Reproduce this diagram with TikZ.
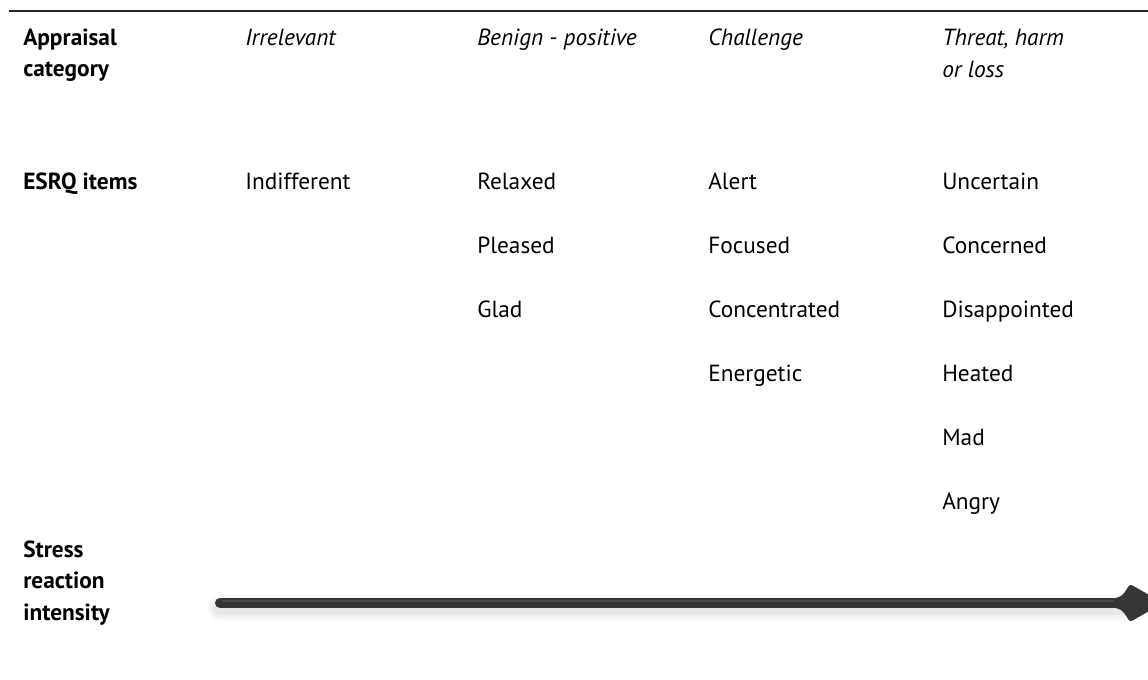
\documentclass[tikz,border=0pt]{standalone}
\usepackage{fontspec}
\setmainfont{PT Sans}
\definecolor{shaft}{HTML}{353535}
\definecolor{shafthi}{HTML}{5A5A5A}
\begin{document}
\begin{tikzpicture}[x=0.75pt,y=-0.75pt,
  txt/.style={inner sep=0pt,anchor=base west,align=left,font=\fontsize{17.5}{23.6}\selectfont},
  rowlabel/.style={txt,font=\fontsize{17.5}{23.6}\selectfont\bfseries},
  cathead/.style={txt,font=\fontsize{17.5}{23.6}\selectfont\itshape},
  item/.style={txt},
  rule/.style={line width=1.5pt,black!85}]
\useasboundingbox (0,0) rectangle (1148,679);
% top rule
\coordinate (ruleL) at (9,11);
\coordinate (ruleR) at (1148,11);
\draw[rule] (ruleL) -- (ruleR);
% row labels (anchor = baseline of last line)
\node[rowlabel] (lapp) at (23,76.5) {Appraisal\\category};
\node[rowlabel] (lesrq) at (23,189) {ESRQ items};
\node[rowlabel] (lstress) at (23,620) {Stress\\reaction\\intensity};
% category headers
\node[cathead] (c1) at (245,45) {Irrelevant};
\node[cathead] (c2) at (477,45) {Benign - positive};
\node[cathead] (c3) at (708,45) {Challenge};
\node[cathead] (c4) at (942,77) {Threat, harm\\or loss};
% items
\node[item] (i11) at (245,189) {Indifferent};
\node[item] (i21) at (477,189) {Relaxed};
\node[item] (i22) at (477,253) {Pleased};
\node[item] (i23) at (477,317) {Glad};
\node[item] (i31) at (708,189) {Alert};
\node[item] (i32) at (708,253) {Focused};
\node[item] (i33) at (708,317) {Concentrated};
\node[item] (i34) at (708,381) {Energetic};
\node[item] (i41) at (942,189) {Uncertain};
\node[item] (i42) at (942,253) {Concerned};
\node[item] (i43) at (942,317) {Disappointed};
\node[item] (i44) at (942,381) {Heated};
\node[item] (i45) at (942,445) {Mad};
\node[item] (i46) at (942,509) {Angry};
% arrow
\coordinate (aS) at (220,603);
\coordinate (aE) at (1120,603);
% soft shadow
\foreach \o/\w in {0.025/26,0.03/20,0.035/14}{
  \draw[line width=\w*0.75pt,line cap=round,black,opacity=\o] ([yshift=-4pt]aS) -- ([yshift=-4pt]aE);
}
\draw[shaft,line width=7.5pt,line cap=round] (aS) -- (aE);
\draw[shafthi,line width=1.2pt,line cap=round,opacity=0.6] ([yshift=1.6pt,xshift=2pt]aS) -- ([yshift=1.6pt]aE);
% arrowhead
\fill[shaft,rounded corners=2pt] (1114,598) .. controls (1123,597) and (1126,590) .. (1130,584)
  -- (1163,603) -- (1130,622) .. controls (1126,616) and (1123,609) .. (1114,608) -- cycle;
\end{tikzpicture}
\end{document}
